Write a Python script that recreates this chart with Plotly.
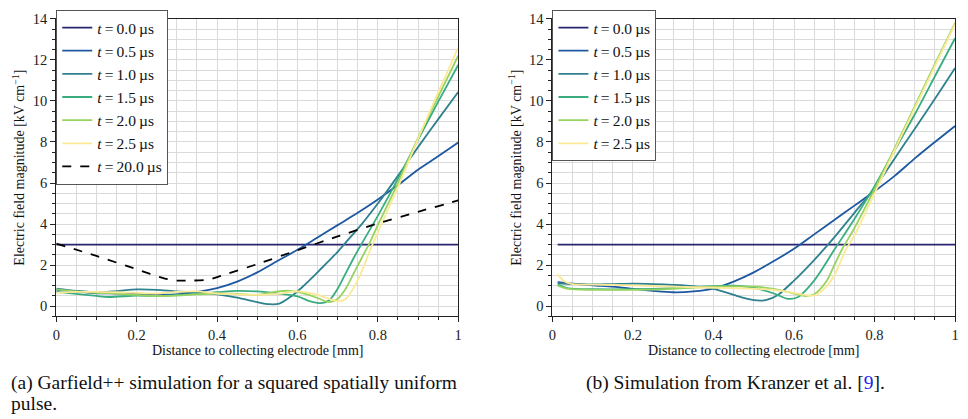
import plotly.graph_objects as go

# ---------------- (a) Garfield++ simulation ----------------
a_x00 = [0.0, 1.0]
a_y00 = [3.0, 3.0]

a_x05 = [0, 0.05, 0.1, 0.15, 0.2, 0.25, 0.3, 0.35, 0.4, 0.45, 0.5, 0.55, 0.6, 0.65, 0.7, 0.75, 0.8, 0.85, 0.9, 0.95, 1.0]
a_y05 = [0.8, 0.72, 0.63, 0.62, 0.6, 0.56, 0.58, 0.7, 0.88, 1.2, 1.65, 2.2, 2.75, 3.35, 3.95, 4.55, 5.2, 5.9, 6.65, 7.3, 7.97]

a_x10 = [0, 0.05, 0.1, 0.15, 0.2, 0.25, 0.3, 0.35, 0.4, 0.45, 0.5, 0.53, 0.555, 0.58, 0.6, 0.62, 0.64, 0.66, 0.68, 0.7, 0.72, 0.76, 0.8, 0.85, 0.9, 0.95, 1.0]
a_y10 = [0.86, 0.75, 0.68, 0.74, 0.82, 0.8, 0.72, 0.68, 0.58, 0.42, 0.2, 0.1, 0.13, 0.42, 0.72, 1.08, 1.45, 1.85, 2.25, 2.65, 3.1, 4.0, 5.0, 6.35, 7.75, 9.1, 10.43]

a_x15 = [0, 0.05, 0.1, 0.13, 0.2, 0.25, 0.3, 0.35, 0.4, 0.45, 0.5, 0.55, 0.6, 0.63, 0.66, 0.68, 0.7, 0.72, 0.74, 0.76, 0.8, 0.85, 0.9, 0.95, 1.0]
a_y15 = [0.7, 0.6, 0.5, 0.45, 0.52, 0.5, 0.55, 0.6, 0.68, 0.75, 0.72, 0.62, 0.48, 0.25, 0.15, 0.3, 0.85, 1.6, 2.35, 3.05, 4.4, 6.2, 8.1, 9.95, 11.75]

a_x20 = [0, 0.05, 0.1, 0.15, 0.2, 0.25, 0.3, 0.35, 0.4, 0.45, 0.5, 0.55, 0.58, 0.62, 0.65, 0.68, 0.7, 0.72, 0.74, 0.76, 0.78, 0.8, 0.85, 0.9, 0.95, 1.0]
a_y20 = [0.82, 0.72, 0.65, 0.62, 0.55, 0.5, 0.52, 0.58, 0.62, 0.6, 0.55, 0.72, 0.75, 0.6, 0.4, 0.2, 0.35, 0.85, 1.6, 2.35, 3.1, 3.95, 6.0, 8.2, 10.2, 12.2]

a_x25 = [0, 0.05, 0.1, 0.15, 0.2, 0.25, 0.3, 0.35, 0.4, 0.45, 0.5, 0.55, 0.6, 0.65, 0.68, 0.7, 0.72, 0.74, 0.76, 0.78, 0.8, 0.85, 0.9, 0.95, 1.0]
a_y25 = [0.65, 0.7, 0.7, 0.68, 0.65, 0.62, 0.7, 0.72, 0.62, 0.58, 0.55, 0.6, 0.72, 0.55, 0.35, 0.25, 0.35, 0.9, 1.7, 2.7, 3.6, 5.8, 8.15, 10.4, 12.6]

a_x200 = [0, 0.1, 0.2, 0.27, 0.3, 0.34, 0.38, 0.42, 0.5, 0.6, 0.7, 0.8, 0.9, 1.0]
a_y200 = [3.05, 2.45, 1.8, 1.35, 1.25, 1.25, 1.3, 1.55, 2.05, 2.73, 3.4, 4.03, 4.6, 5.15]

# ---------------- (b) Kranzer et al. ----------------
b_x00 = [0.013, 1.0]
b_y00 = [3.0, 3.0]

b_x05 = [0.013, 0.05, 0.1, 0.15, 0.2, 0.25, 0.3, 0.35, 0.4, 0.45, 0.5, 0.55, 0.6, 0.65, 0.7, 0.75, 0.8, 0.85, 0.9, 0.95, 1.0]
b_y05 = [1.17, 1.1, 1.02, 0.95, 0.85, 0.75, 0.68, 0.72, 0.86, 1.2, 1.65, 2.2, 2.8, 3.5, 4.2, 4.9, 5.6, 6.35, 7.2, 8.0, 8.78]

b_x10 = [0.013, 0.05, 0.1, 0.15, 0.2, 0.25, 0.3, 0.35, 0.4, 0.45, 0.5, 0.53, 0.56, 0.6, 0.65, 0.7, 0.75, 0.8, 0.85, 0.9, 0.95, 1.0]
b_y10 = [1.12, 1.08, 1.06, 1.08, 1.1, 1.08, 1.04, 0.98, 0.85, 0.55, 0.3, 0.3, 0.55, 1.25, 2.25, 3.35, 4.55, 5.75, 7.2, 8.65, 10.1, 11.6]

b_x15 = [0.013, 0.04, 0.1, 0.2, 0.3, 0.4, 0.45, 0.5, 0.55, 0.585, 0.61, 0.65, 0.7, 0.75, 0.8, 0.85, 0.9, 0.95, 1.0]
b_y15 = [1.05, 0.87, 0.83, 0.83, 0.88, 0.98, 1.0, 0.9, 0.62, 0.36, 0.45, 1.25, 2.75, 4.25, 5.85, 7.6, 9.35, 11.2, 13.05]

b_x20 = [0.013, 0.04, 0.1, 0.2, 0.3, 0.4, 0.5, 0.55, 0.6, 0.625, 0.65, 0.68, 0.7, 0.72, 0.75, 0.8, 0.85, 0.9, 0.95, 1.0]
b_y20 = [1.0, 0.84, 0.8, 0.8, 0.85, 0.95, 0.95, 0.85, 0.62, 0.5, 0.58, 1.2, 2.0, 2.8, 3.8, 5.7, 7.7, 9.75, 11.8, 13.8]

b_x25 = [0.013, 0.03, 0.05, 0.1, 0.2, 0.3, 0.4, 0.5, 0.55, 0.6, 0.635, 0.655, 0.68, 0.7, 0.73, 0.75, 0.8, 0.85, 0.9, 0.95, 1.0]
b_y25 = [1.55, 1.2, 1.08, 1.05, 1.02, 0.95, 0.9, 0.85, 0.8, 0.65, 0.52, 0.55, 0.95, 1.5, 2.8, 3.45, 5.5, 7.6, 9.65, 11.7, 13.75]

labels = ["0.0", "0.5", "1.0", "1.5", "2.0", "2.5"]
colors = ["#2b2471", "#1d58a0", "#2f8190", "#3aad80", "#96d35f", "#fbe996"]

a_series = [(a_x00, a_y00), (a_x05, a_y05), (a_x10, a_y10), (a_x15, a_y15), (a_x20, a_y20), (a_x25, a_y25)]
b_series = [(b_x00, b_y00), (b_x05, b_y05), (b_x10, b_y10), (b_x15, b_y15), (b_x20, b_y20), (b_x25, b_y25)]

FONT = "Liberation Serif, Times New Roman, DejaVu Serif, serif"
TS = "\u2009"
XTITLE = "Distance to collecting electrode [mm]"
YTITLE = "Electric field magnitude [kV cm<sup>−1</sup>]"


def name_for(lbl):
    return f"<i>t</i>{TS}={TS}{lbl}{TS}µs"


fig = go.Figure()
for (xs, ys), lbl, col in zip(a_series, labels, colors):
    fig.add_trace(go.Scatter(x=xs, y=ys, mode="lines", name=name_for(lbl),
                             line=dict(color=col, width=1.8, shape="spline", smoothing=0.8),
                             xaxis="x", yaxis="y", legend="legend"))
fig.add_trace(go.Scatter(x=a_x200, y=a_y200, mode="lines", name=name_for("20.0"),
                         line=dict(color="black", width=1.8, dash="dash", shape="spline", smoothing=0.6),
                         xaxis="x", yaxis="y", legend="legend"))
for (xs, ys), lbl, col in zip(b_series, labels, colors):
    fig.add_trace(go.Scatter(x=xs, y=ys, mode="lines", name=name_for(lbl),
                             line=dict(color=col, width=1.8, shape="spline", smoothing=0.8),
                             xaxis="x2", yaxis="y2", legend="legend2"))

W, H = 968, 419
ytop = 1 - 11 / H
ybot = 1 - 314.5 / H
dom_a = [52.7 / W, 458 / W]
dom_b = [553 / W, 959 / W]

grid = "#dadada"
tickfont = dict(family=FONT, size=14.5, color="#222")
titlefont = dict(family=FONT, size=14, color="#111")


def xax(dom, anchor):
    return dict(domain=dom, anchor=anchor, range=[0, 1], dtick=0.2, tick0=0,
                tickformat="~g", showline=True, linecolor="#222", linewidth=1, mirror=True,
                ticks="outside", ticklen=5, tickcolor="#222", tickfont=tickfont,
                showgrid=True, gridcolor=grid, gridwidth=1, zeroline=False,
                minor=dict(dtick=0.05, ticks="outside", ticklen=3, tickcolor="#222",
                           showgrid=True, gridcolor=grid, gridwidth=1))


def yax(anchor):
    return dict(domain=[ybot, ytop], anchor=anchor, range=[-0.5, 14], dtick=2, tick0=0,
                showline=True, linecolor="#222", linewidth=1, mirror=True,
                ticks="outside", ticklen=5, tickcolor="#222", tickfont=tickfont,
                showgrid=True, gridcolor=grid, gridwidth=1, zeroline=False,
                minor=dict(dtick=0.5, ticks="outside", ticklen=3, tickcolor="#222",
                           showgrid=True, gridcolor=grid, gridwidth=1),
                title=dict(text=YTITLE, font=titlefont, standoff=4))


legend_common = dict(bgcolor="white", bordercolor="#555", borderwidth=1,
                     font=dict(family=FONT, size=15.5, color="#111"),
                     xanchor="left", yanchor="top", tracegroupgap=0, itemwidth=30)

leg_y = ytop + 9 / H

fig.update_layout(
    width=W, height=H, margin=dict(l=0, r=0, t=0, b=0),
    paper_bgcolor="white", plot_bgcolor="white",
    font=dict(family=FONT, color="#111"),
    xaxis=xax(dom_a, "y"), yaxis=yax("x"),
    xaxis2=xax(dom_b, "y2"), yaxis2=yax("x2"),
    legend=dict(x=dom_a[0], y=leg_y, **legend_common),
    legend2=dict(x=dom_b[0], y=leg_y, **legend_common),
    showlegend=True,
)

# x-axis titles
for dom in (dom_a, dom_b):
    fig.add_annotation(text=XTITLE, xref="paper", yref="paper", x=(dom[0] + dom[1]) / 2,
                       y=1 - 349 / H, xanchor="center", yanchor="middle", showarrow=False,
                       font=titlefont)

capfont = dict(family=FONT, size=19.5, color="#111")
fig.add_annotation(text="(a) Garfield++ simulation for a squared spatially uniform",
                   xref="paper", yref="paper", x=5 / W, y=1 - 382 / H,
                   xanchor="left", yanchor="middle", showarrow=False, font=capfont)
fig.add_annotation(text="pulse.", xref="paper", yref="paper", x=5 / W, y=1 - 403 / H,
                   xanchor="left", yanchor="middle", showarrow=False, font=capfont)
fig.add_annotation(text="(b) Simulation from Kranzer et al. [<span style='color:#2222ee'>9</span>].",
                   xref="paper", yref="paper", x=585 / W, y=1 - 382 / H,
                   xanchor="left", yanchor="middle", showarrow=False, font=capfont)

fig.write_html("out.html")
